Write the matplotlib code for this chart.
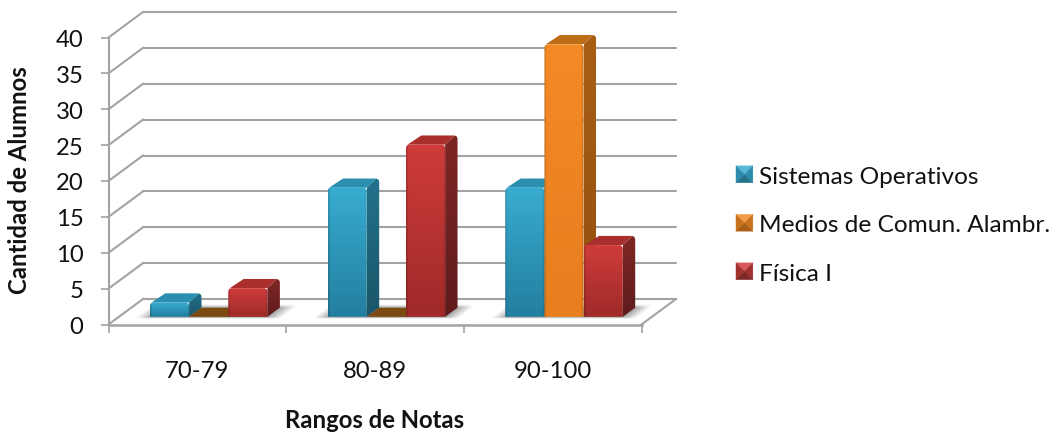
import numpy as np
import matplotlib
matplotlib.use("Agg")
import matplotlib.pyplot as plt
from matplotlib.patches import Polygon
from matplotlib.legend_handler import HandlerBase

categories = ["70-79", "80-89", "90-100"]
series_names = ["Sistemas Operativos", "Medios de Comun. Alambr.", "Física I"]
sistemas = [2, 18, 18]
medios = [0, 0, 38]
fisica = [4, 24, 10]
y_ticks = [0, 5, 10, 15, 20, 25, 30, 35, 40]

plt.rcParams["font.family"] = ["Lato", "DejaVu Sans"]
W, H = 1058, 435
FS = 17.2
fig = plt.figure(figsize=(W / 100, H / 100), dpi=100)
L, R, B, T = 108.5, 641.5, 325.5, 38.5
ax = fig.add_axes([L / W, 1 - B / H, (R - L) / W, (B - T) / H])
XMAX, YMAX = len(categories), max(y_ticks)
ux = XMAX / (R - L)
uy = YMAX / (B - T)
DX, DY = 34.5 * ux, 25.5 * uy   # full depth of the plot box in data units
GRID = "#a3a3a3"
LW = 1.5


def proj(x, y, t):
    return x + DX * t, y + DY * t


# walls and floor
for v in y_ticks:
    x0, y0 = proj(0, v, 1)
    x1, y1 = proj(XMAX, v, 1)
    ax.plot([x0, x1], [y0, y1], color=GRID, lw=LW, clip_on=False, zorder=1,
            solid_capstyle="round")
    ax.plot([0, x0], [v, y0], color=GRID, lw=LW, clip_on=False, zorder=1)
rx, ry = proj(XMAX, 0, 1)
ax.plot([XMAX, rx], [0, ry], color=GRID, lw=LW, clip_on=False, zorder=1)
ax.plot([0, XMAX], [0, 0], color=GRID, lw=1.8, clip_on=False, zorder=2)

ax.set_xlim(0, XMAX)
ax.set_ylim(0, YMAX)
ax.patch.set_visible(False)
for s in ["top", "right", "bottom"]:
    ax.spines[s].set_visible(False)
ax.spines["left"].set_color(GRID)
ax.spines["left"].set_linewidth(LW)
ax.set_yticks(y_ticks)
ax.set_xticks(range(XMAX + 1))
ax.set_xticklabels([])
ax.set_xticks([i + .5 for i in range(XMAX)], minor=True)
ax.set_xticklabels(categories, minor=True, fontsize=FS)
ax.tick_params(axis="y", length=6, width=1.2, color=GRID, labelsize=FS, pad=12,
               labelcolor="#111111")
ax.tick_params(axis="x", which="major", length=5.5, width=1.2, color=GRID)
ax.tick_params(axis="x", which="minor", length=0, pad=25.5, labelcolor="#111111")
ax.set_xlabel("Rangos de Notas", fontweight="bold", fontsize=FS, color="#111111")
ax.xaxis.set_label_coords((375 - L) / (R - L), -(421 - B) / (B - T), transform=ax.transAxes)
ax.xaxis.label.set_verticalalignment("center")
ax.set_ylabel("Cantidad de Alumnos", fontweight="bold", fontsize=FS, color="#111111")
ax.yaxis.set_label_coords(-(L - 20) / (R - L), (B - 180) / (B - T), transform=ax.transAxes)
ax.yaxis.label.set_verticalalignment("center")

T0, T1 = 0.30, 0.66
BW = 0.2205
START = 0.5 - 1.5 * BW + 1.0 * ux

palettes = [
    dict(ftop="#38acd0", fbot="#237f9f", side0="#23728c", side1="#1a5568", top="#2a8fb0", flat="#1f6c84"),
    dict(ftop="#f28a26", fbot="#e77f1f", side0="#a85f14", side1="#94500f", top="#bd6b16", flat="#7b4a12"),
    dict(ftop="#cf3c3a", fbot="#9f2a29", side0="#7e2725", side1="#5f1b1b", top="#a92f2d", flat="#7a2624"),
]
values = [sistemas, medios, fisica]


def rgb(c):
    return np.array(matplotlib.colors.to_rgb(c))


def grad_image(c0, c1, bevel=0.0):
    ny, nx = 80, 40
    t = np.linspace(0, 1, ny)[:, None, None]
    img = rgb(c0)[None, None, :] * (1 - t) + rgb(c1)[None, None, :] * t
    img = np.repeat(img, nx, axis=1)
    if bevel:
        xs = np.linspace(0, 1, nx)
        edge = 1 - bevel * (np.clip(1 - xs / .06, 0, 1) + np.clip((xs - .94) / .06, 0, 1))
        img = img * edge[None, :, None]
    return np.clip(img, 0, 1)


def face(pts, c0, c1, z, bevel=0.0):
    pts = np.array(pts)
    poly = Polygon(pts, closed=True, transform=ax.transData, fc="none", ec="none")
    ax.add_patch(poly)
    poly.set_clip_on(False)
    im = ax.imshow(grad_image(c0, c1, bevel), aspect="auto", interpolation="bilinear", zorder=z,
                   extent=[pts[:, 0].min(), pts[:, 0].max(), pts[:, 1].min(), pts[:, 1].max()],
                   origin="upper")
    im.set_clip_box(fig.bbox)
    im.set_clip_path(poly)


# soft shadows on the floor
gx = np.linspace(0, XMAX + DX, 1400)
gy = np.linspace(0, DY, 90)
X, Y = np.meshgrid(gx, gy)
tt = Y / DY
xp = X - DX * tt
alpha = np.zeros_like(X)
m = 0.08
for i in range(XMAX):
    b0 = i + START
    b1 = b0 + 3 * BW
    a = np.clip((xp - (b0 - m)) / m, 0, 1) * np.clip(((b1 + m) - xp) / m, 0, 1)
    a = a * np.clip((tt - (T0 - .06)) / .06, 0, 1) * np.clip(((T1 + .14) - tt) / .14, 0, 1)
    alpha = np.maximum(alpha, a)
shadow = np.zeros(X.shape + (4,))
shadow[..., :3] = 0.45
shadow[..., 3] = 0.6 * alpha
ax.imshow(shadow, extent=[gx[0], gx[-1], gy[0], gy[-1]], origin="lower", aspect="auto",
          zorder=1.5, interpolation="bilinear", clip_on=False)

# bars
z = 3.0
cx, cy = 3.0 * ux, 3.0 * uy
for i in range(XMAX):
    for j, vals in enumerate(values):
        p = palettes[j]
        v = vals[i]
        x0 = i + START + j * BW
        x1 = x0 + BW
        A = proj(x0, 0, T0); Bq = proj(x1, 0, T0)
        if v == 0:
            ax.add_patch(Polygon([A, Bq, proj(x1, 0, T1), proj(x0, 0, T1)], closed=True,
                                 fc=p["flat"], ec="none", zorder=z, clip_on=False))
            z += .1
            continue
        C = proj(x1, v, T0); D = proj(x0, v, T0)
        E = proj(x1, v, T1); F = proj(x0, v, T1); G = proj(x1, 0, T1)
        face([Bq, G, (E[0], E[1] - cy), (E[0] - .3 * cx, E[1] - .3 * cy), (E[0] - cx, E[1]), C],
             p["side0"], p["side1"], z)
        z += .1
        face([(D[0] + .5 * cx, D[1]), C, (E[0] - cx, E[1]), (F[0] + cx, F[1])],
             p["top"], p["top"], z)
        z += .1
        face([A, Bq, (C[0], C[1] - cy), (C[0] - .3 * cx, C[1] - .3 * cy), (C[0] - cx, C[1]),
              (D[0] + cx, D[1]), (D[0] + .3 * cx, D[1] - .3 * cy), (D[0], D[1] - cy)],
             p["ftop"], p["fbot"], z, bevel=.16)
        z += .1

# force limits back after imshow
ax.set_xlim(0, XMAX)
ax.set_ylim(0, YMAX)


def mix(a, b, f):
    return tuple(rgb(a) * (1 - f) + rgb(b) * f)


class Swatch(HandlerBase):
    def __init__(self, pal):
        super().__init__()
        self.pal = pal

    def create_artists(self, legend, orig, xd, yd, w, h, fs, trans):
        s = 12.2
        x0, y0 = -xd + (w - s) / 2, -yd + (h - s) / 2
        c = (x0 + s / 2, y0 + s / 2)
        a, b, cc, d = (x0, y0), (x0 + s, y0), (x0 + s, y0 + s), (x0, y0 + s)
        p = self.pal
        out = []
        for tri, col in [((d, cc, c), mix(p["ftop"], "#ffffff", .15)),
                         ((a, d, c), mix(p["ftop"], p["side0"], .55)),
                         ((b, cc, c), mix(p["ftop"], p["side0"], .55)),
                         ((a, b, c), p["side0"])]:
            out.append(Polygon(tri, closed=True, fc=col, ec=col, lw=.2, transform=trans))
        return out


handles = [plt.Rectangle((0, 0), 1, 1) for _ in series_names]
leg = fig.legend(handles, series_names, loc="center left",
                 bbox_to_anchor=(736 / W, 1 - 224.5 / H), frameon=False, fontsize=FS + .4,
                 labelspacing=1.03, handlelength=0.69, handleheight=1.0, handletextpad=0.25,
                 borderpad=0, borderaxespad=0, labelcolor="#111111",
                 handler_map={h: Swatch(p) for h, p in zip(handles, palettes)})

fig.savefig("out.png", dpi=100, facecolor="white")
